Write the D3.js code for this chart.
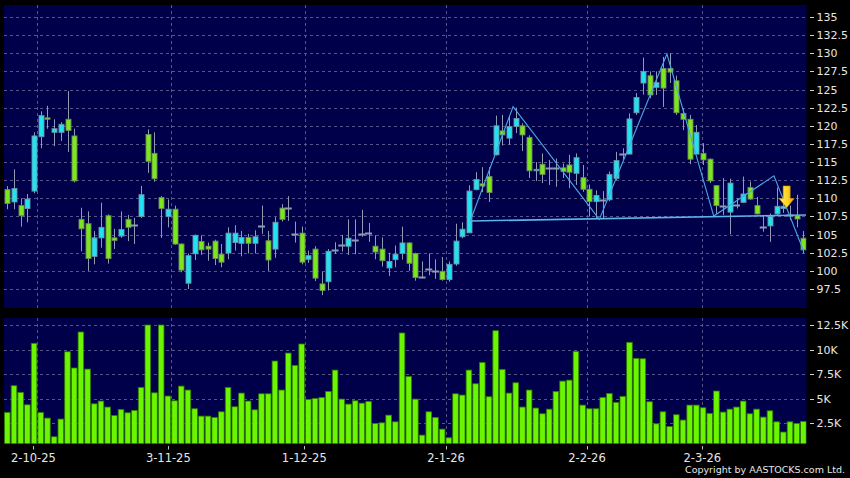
<!DOCTYPE html>
<html><head><meta charset="utf-8">
<script src="https://cdn.jsdelivr.net/npm/d3@7"></script>
<style>body{margin:0;background:#000;} svg{display:block;}</style>
</head><body>
<svg id="c" width="850" height="478"></svg>
<script>
// ---- data ----
const opens  = [111.2,109.5,109.0,108.6,111.0,118.5,121.1,119.1,119.1,120.9,118.6,107.1,106.5,102.0,104.55,107.6,104.55,104.8,107.1,106.3,
107.5,118.8,116.2,110.1,107.5,108.5,103.7,98.3,102.35,104.05,103.4,104.1,102.3,102.45,103.9,103.8,104.6,103.8,106.2,104.15,
103.0,108.65,108.6,105.1,105.2,101.6,103.0,98.2,98.5,102.93,103.5,103.4,104.3,105.04,105.26,103.4,103.0,100.4,101.55,102.4,
103.85,102.4,99.1,100.2,100.0,99.94,98.8,100.95,104.7,105.24,111.2,112.0,113.0,116.0,119.3,118.3,119.9,120.0,118.4,113.8,
114.7,114.15,114.15,114.2,114.6,113.45,112.85,111.25,109.55,109.8,109.8,112.75,116.1,116.1,121.8,125.9,126.9,125.3,127.9,127.9,
126.2,121.7,120.9,116.1,116.2,115.4,111.75,109.0,108.1,109.1,109.45,111.5,109.0,106.0,106.2,107.85,108.6,107.7,107.6,104.5];
const highs  = [111.7,114.0,110.0,110.6,119.1,122.0,122.75,120.9,120.5,124.8,119.6,108.7,108.2,105.5,109.4,107.8,105.8,108.2,107.7,107.3,
111.7,119.5,119.1,110.3,109.85,109.0,103.8,102.4,105.0,104.9,103.9,104.3,103.7,106.0,106.3,105.5,105.1,105.6,109.0,105.5,
107.4,109.2,110.3,106.8,106.1,102.8,103.4,99.9,103.0,103.95,104.96,107.1,107.1,108.4,106.6,104.9,104.6,102.5,103.5,106.1,
103.95,102.5,101.3,102.4,101.6,101.9,101.3,106.5,106.7,111.8,113.6,114.3,114.3,121.4,121.5,121.3,122.5,120.35,118.7,115.0,
116.2,115.3,115.5,114.8,116.0,116.2,114.6,111.9,111.1,111.0,113.7,116.4,116.9,121.7,124.5,129.4,127.5,127.5,129.5,130.0,
126.9,122.4,121.5,120.1,117.6,115.5,111.8,112.8,112.7,110.0,113.0,112.3,110.2,107.7,107.9,111.5,109.5,109.0,110.5,105.5];
const lows   = [108.5,108.5,106.1,106.7,110.7,116.9,119.6,117.2,117.9,116.4,112.2,102.7,100.0,100.9,103.2,101.0,103.0,104.55,104.1,103.7,
107.3,113.5,112.3,104.55,106.0,103.6,99.8,97.5,101.5,102.2,101.4,100.8,100.5,101.6,102.8,102.0,102.4,102.4,105.1,100.0,
101.8,106.8,106.9,103.9,100.9,101.1,98.6,96.65,97.3,102.33,102.66,102.2,102.3,104.7,104.0,101.6,100.6,99.3,100.5,101.55,
100.0,98.65,98.97,99.4,98.9,98.65,98.5,100.7,104.5,105.24,111.1,110.85,109.5,115.9,117.3,117.4,119.0,116.5,112.8,112.4,
112.1,111.85,111.6,112.8,111.4,111.85,110.9,107.5,107.25,107.25,109.6,112.5,115.3,116.1,121.5,124.3,123.8,124.25,122.6,125.9,
121.5,119.4,114.7,116.1,114.6,112.1,107.9,107.7,105.05,108.6,109.4,109.8,107.8,105.4,104.0,107.6,108.0,107.0,106.0,102.4];
const closes = [109.3,111.35,107.6,109.9,118.6,121.4,120.9,119.6,120.2,119.35,112.4,105.8,101.7,104.55,106.0,101.7,104.2,105.7,106.0,106.3,
110.5,115.1,112.7,108.6,108.5,103.7,100.1,102.1,104.9,102.9,103.0,101.7,101.2,105.2,105.2,104.6,103.8,104.7,106.2,101.5,
106.7,107.1,108.6,105.1,101.2,102.1,99.0,97.3,102.7,102.93,103.5,104.5,104.3,105.04,105.26,102.6,101.4,101.3,102.3,103.85,
101.05,99.07,99.1,100.2,100.0,98.8,100.9,104.1,105.74,111.0,112.6,111.7,110.8,120.0,118.74,119.9,121.0,118.74,113.8,114.0,
113.3,114.15,114.15,113.7,113.6,115.6,111.25,109.55,110.4,109.8,113.3,115.2,116.1,120.95,123.9,127.5,124.25,125.95,125.2,127.4,
121.8,120.9,115.4,119.1,115.3,112.4,109.0,109.0,112.1,109.1,110.6,109.9,107.85,106.0,107.5,108.9,108.9,107.7,107.15,102.9];
// volume in thousands of shares
const volumes = [3.62,6.33,5.65,4.39,10.64,3.62,3.04,1.14,2.94,9.78,8.13,11.79,8.02,4.49,4.77,4.16,3.31,3.92,3.58,3.82,
6.16,12.5,5.61,12.5,5.28,4.8,6.29,5.89,3.99,3.24,3.24,3.11,3.68,6.16,4.19,5.58,4.77,3.88,5.51,5.51,
8.84,5.89,9.65,8.4,10.57,4.94,5.04,5.14,5.75,7.92,4.97,4.46,4.8,4.56,4.74,2.5,2.56,3.34,2.66,11.69,
7.28,4.97,1.31,3.68,3.11,1.92,1.04,5.51,5.38,7.92,6.53,8.7,5.21,11.92,7.99,5.58,6.63,4.16,5.89,4.06,
3.48,3.95,5.75,6.8,6.9,9.82,4.36,3.99,3.99,5.14,5.55,4.64,5.25,10.74,9.11,9.07,4.7,2.46,3.68,2.19,
3.38,2.84,4.36,4.36,4.09,3.52,5.79,3.65,3.95,4.16,4.77,3.48,3.95,3.14,3.78,2.66,1.62,2.66,2.5,2.7];
const dateLabels = ["2-10-25","3-11-25","1-12-25","2-1-26","2-2-26","2-3-26"];
const dateLabelIndex = [3.9,24.07,44.39,65.58,86.65,103.89];
const dateGridIndex = [4.5,24.5,44.5,65.6,86.6,103.8];
const priceTicks = [97.5,100,102.5,105,107.5,110,112.5,115,117.5,120,122.5,125,127.5,130,132.5,135];
const priceTickLabels = ["97.5","100","102.5","105","107.5","110","112.5","115","117.5","120","122.5","125","127.5","130","132.5","135"];
const volTicks = [2.5,5,7.5,10,12.5];
const volTickLabels = ["2.5K","5K","7.5K","10K","12.5K"];
// pattern annotation (zigzag + neckline + sell signal)
const zigIndex = [69.2,75.6,88.5,98.6,105.6,114.6,119];
const zigPrice = [106.87,122.63,107.1,129.9,107.56,113.1,102.8];
const neckIndex = [69.2,119.4];
const neckPrice = [106.87,107.7];
const signalIndex = 116.5;
const signalPrice = [111.7,108.7];

// ---- layout ----
const svg = d3.select("#c");
const P = {x0:4, x1:806.5, y0:5, y1:308};
const V = {y0:318, y1:443.5};
const x = d3.scaleLinear().domain([0, opens.length-1]).range([7.3, 803.4]);
const y = d3.scaleLinear().domain([97.5,135]).range([289,17]);
const yv = d3.scaleLinear().domain([0,12.5]).range([448,325]);

svg.append("rect").attr("width",850).attr("height",478).attr("fill","#000");
svg.append("rect").attr("x",P.x0).attr("y",P.y0).attr("width",P.x1-P.x0).attr("height",P.y1-P.y0).attr("fill","#00004a");
svg.append("rect").attr("x",P.x0).attr("y",V.y0).attr("width",P.x1-P.x0).attr("height",V.y1-V.y0).attr("fill","#00004a");

const defs = svg.append("defs");
defs.append("clipPath").attr("id","cp").append("rect").attr("x",P.x0).attr("y",P.y0).attr("width",P.x1-P.x0).attr("height",P.y1-P.y0);
defs.append("clipPath").attr("id","cv").append("rect").attr("x",P.x0).attr("y",V.y0).attr("width",P.x1-P.x0).attr("height",V.y1-V.y0);
const grad = defs.append("linearGradient").attr("id","ag").attr("x1",0).attr("x2",1).attr("y1",0).attr("y2",0);
grad.append("stop").attr("offset","0%").attr("stop-color","#fff07a");
grad.append("stop").attr("offset","55%").attr("stop-color","#ffd21e");
grad.append("stop").attr("offset","100%").attr("stop-color","#f0a400");

const gridColor = "#55558a";
// grids price
const gp = svg.append("g").attr("clip-path","url(#cp)");
gp.selectAll(".hg").data(priceTicks).join("line")
  .attr("x1",P.x0).attr("x2",P.x1).attr("y1",d=>Math.round(y(d))+0.5).attr("y2",d=>Math.round(y(d))+0.5)
  .attr("stroke",gridColor).attr("stroke-dasharray","3,3");
gp.selectAll(".vg").data(dateGridIndex).join("line")
  .attr("x1",d=>Math.round(x(d))+0.5).attr("x2",d=>Math.round(x(d))+0.5).attr("y1",P.y0).attr("y2",P.y1)
  .attr("stroke",gridColor).attr("stroke-dasharray","3,3");
// grids volume
const gv = svg.append("g").attr("clip-path","url(#cv)");
gv.selectAll(".hg").data(volTicks).join("line")
  .attr("x1",P.x0).attr("x2",P.x1).attr("y1",d=>Math.round(yv(d))+0.5).attr("y2",d=>Math.round(yv(d))+0.5)
  .attr("stroke",gridColor).attr("stroke-dasharray","3,3");
gv.selectAll(".vg").data(dateGridIndex).join("line")
  .attr("x1",d=>Math.round(x(d))+0.5).attr("x2",d=>Math.round(x(d))+0.5).attr("y1",V.y0).attr("y2",V.y1)
  .attr("stroke",gridColor).attr("stroke-dasharray","3,3");

// volume bars
const bw = 5.6;
gv.selectAll(".vb").data(volumes).join("rect")
  .attr("x",(d,i)=>x(i)-bw/2).attr("width",bw)
  .attr("y",d=>yv(d)).attr("height",d=>V.y1-yv(d)+2)
  .attr("fill","#6cf500").attr("stroke","#2f7a00").attr("stroke-width",0.8);

// candles
const idx = d3.range(opens.length);
const cg = gp.append("g");
const wickColor = "#8e9cb2";
cg.selectAll(".wk").data(idx).join("line")
  .attr("x1",i=>Math.round(x(i))+0.5).attr("x2",i=>Math.round(x(i))+0.5)
  .attr("y1",i=>y(highs[i])).attr("y2",i=>y(lows[i]))
  .attr("stroke",wickColor).attr("stroke-width",1);
const cw = 5;
cg.selectAll(".bd").data(idx.filter(i=>opens[i]!==closes[i])).join("rect")
  .attr("x",i=>Math.round(x(i))+0.5-cw/2).attr("width",cw)
  .attr("y",i=>y(Math.max(opens[i],closes[i])))
  .attr("height",i=>Math.max(1,Math.abs(y(opens[i])-y(closes[i]))))
  .attr("fill",i=>closes[i]>opens[i]?"#22e2f2":"#7ae81c")
  .attr("stroke",i=>closes[i]>opens[i]?"#6c93a8":"#6f8a5a").attr("stroke-width",0.9);
cg.selectAll(".dj").data(idx.filter(i=>opens[i]===closes[i])).join("line")
  .attr("x1",i=>x(i)-3.5).attr("x2",i=>x(i)+3.5)
  .attr("y1",i=>Math.round(y(opens[i]))+0.5).attr("y2",i=>Math.round(y(opens[i]))+0.5)
  .attr("stroke","#8e9cb2").attr("stroke-width",2);

// pattern lines
const line = d3.line().x(d=>x(d[0])).y(d=>y(d[1]));
gp.append("path").attr("d",line(neckIndex.map((v,i)=>[v,neckPrice[i]])))
  .attr("fill","none").attr("stroke","#5cb4ec").attr("stroke-width",1.6);
gp.append("path").attr("d",line(zigIndex.map((v,i)=>[v,zigPrice[i]])))
  .attr("fill","none").attr("stroke","#4aa6e4").attr("stroke-width",1.1);

// sell arrow
const ax = x(signalIndex), ayt = y(signalPrice[0]), ayb = y(signalPrice[1]);
const ah = (ayb-ayt)*0.42;
gp.append("path")
  .attr("d",`M${ax-3.5},${ayt} L${ax+3.5},${ayt} L${ax+3.5},${ayb-ah} L${ax+7.5},${ayb-ah} L${ax},${ayb} L${ax-7.5},${ayb-ah} L${ax-3.5},${ayb-ah} Z`)
  .attr("fill","url(#ag)").attr("stroke","#d09000").attr("stroke-width",0.6);

// right axes
const txtColor = "#e6e6e6";
const font = "DejaVu Sans, Verdana, sans-serif";
const ra = svg.append("g");
ra.selectAll(".pt").data(priceTicks).join("line")
  .attr("x1",810).attr("x2",814).attr("y1",d=>Math.round(y(d))+0.5).attr("y2",d=>Math.round(y(d))+0.5)
  .attr("stroke","#cfcfcf");
ra.selectAll(".pl").data(priceTicks).join("text")
  .attr("x",816.5).attr("y",d=>y(d)+4).text((d,i)=>priceTickLabels[i])
  .attr("fill",txtColor).attr("font-family",font).attr("font-size","11px");
ra.selectAll(".vt").data(volTicks).join("line")
  .attr("x1",810).attr("x2",814).attr("y1",d=>Math.round(yv(d))+0.5).attr("y2",d=>Math.round(yv(d))+0.5)
  .attr("stroke","#cfcfcf");
ra.selectAll(".vl").data(volTicks).join("text")
  .attr("x",816.5).attr("y",d=>yv(d)+4).text((d,i)=>volTickLabels[i])
  .attr("fill",txtColor).attr("font-family",font).attr("font-size","11px");

// bottom date axis
const ba = svg.append("g");
ba.selectAll(".dt").data(dateLabelIndex).join("line")
  .attr("x1",d=>Math.round(x(d))+0.5).attr("x2",d=>Math.round(x(d))+0.5).attr("y1",446).attr("y2",449.5)
  .attr("stroke","#bdbdbd");
ba.selectAll(".dl").data(dateLabelIndex).join("text")
  .attr("x",d=>x(d)).attr("y",462).attr("text-anchor","middle").text((d,i)=>dateLabels[i])
  .attr("fill",txtColor).attr("font-family",font).attr("font-size","11.5px");

svg.append("text").attr("x",845).attr("y",473).attr("text-anchor","end")
  .attr("fill",txtColor).attr("font-family",font).attr("font-size","9.5px")
  .text("Copyright by AASTOCKS.com Ltd.");
</script>
</body></html>
